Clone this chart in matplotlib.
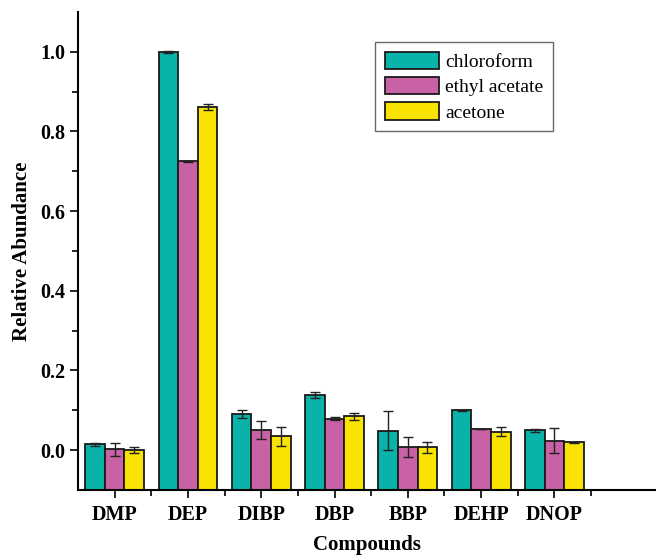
import matplotlib
matplotlib.use('Agg')
import matplotlib.pyplot as plt
import numpy as np

compounds = ['DMP', 'DEP', 'DIBP', 'DBP', 'BBP', 'DEHP', 'DNOP']

chloroform = [0.015, 1.000, 0.091, 0.138, 0.049, 0.100, 0.050]
chloroform_err = [0.004, 0.003, 0.010, 0.007, 0.049, 0.002, 0.004]

ethyl_acetate = [0.002, 0.725, 0.051, 0.079, 0.008, 0.053, 0.024]
ethyl_acetate_err = [0.017, 0.001, 0.023, 0.004, 0.025, 0.001, 0.031]

acetone = [0.000, 0.862, 0.035, 0.085, 0.007, 0.046, 0.020]
acetone_err = [0.007, 0.008, 0.024, 0.009, 0.013, 0.011, 0.001]

plt.rcParams['font.family'] = ['Liberation Serif', 'DejaVu Serif']

fig = plt.figure(figsize=(6.56, 5.55), dpi=100)
ax = fig.add_axes([78 / 656, 1 - 490 / 555, 1 - 78 / 656, 478 / 555])

base = -0.1  # bars start at the bottom of the axis
x = np.arange(1, len(compounds) + 1)
w = 0.267
series = [(chloroform, chloroform_err, '#0AB3A9', 'chloroform'),
          (ethyl_acetate, ethyl_acetate_err, '#C962A5', 'ethyl acetate'),
          (acetone, acetone_err, '#F9E302', 'acetone')]

for i, (vals, errs, col, lab) in enumerate(series):
    vals = np.array(vals)
    ax.bar(x + (i - 1) * w, vals - base, w, bottom=base, color=col,
           edgecolor='#1a1a1a', linewidth=1.3, label=lab, zorder=2)
    ax.errorbar(x + (i - 1) * w, vals, yerr=errs, fmt='none', ecolor='#222222',
                elinewidth=1.0, capsize=3.5, capthick=1.0, zorder=3)

ax.set_xlim(0.5, 0.5 + (656 - 78) / 73.3)
ax.set_ylim(-0.1, 1.1)

ax.set_xticks(x)
ax.set_xticklabels(compounds, fontsize=14.5, fontweight='bold')
ax.set_xticks(x + 0.5, minor=True)
ax.set_yticks(np.arange(0, 1.01, 0.2))
ax.set_yticklabels(['0.0', '0.2', '0.4', '0.6', '0.8', '1.0'], fontsize=14.5, fontweight='bold')
ax.set_yticks([0.1, 0.3, 0.5, 0.7, 0.9], minor=True)

ax.tick_params(axis='both', which='major', direction='out', length=6, width=1.2, pad=3)
ax.tick_params(axis='x', which='major', pad=5)
ax.tick_params(axis='both', which='minor', direction='out', length=4, width=1.2)

for side in ['top', 'right']:
    ax.spines[side].set_visible(False)
for side in ['left', 'bottom']:
    ax.spines[side].set_linewidth(1.5)

ax.set_ylabel('Relative Abundance', fontsize=15, fontweight='bold', labelpad=6)
ax.set_xlabel('Compounds', fontsize=15, fontweight='bold', labelpad=7)

leg = ax.legend(loc='upper left', bbox_to_anchor=(0.514, 0.937), borderaxespad=0,
                fontsize=14, frameon=True, fancybox=False, edgecolor='#444444',
                handlelength=2.8, handleheight=1.0, handletextpad=0.3,
                labelspacing=0.3, borderpad=0.5)
leg.get_frame().set_linewidth(1.0)

plt.savefig('out.png', dpi=100)
